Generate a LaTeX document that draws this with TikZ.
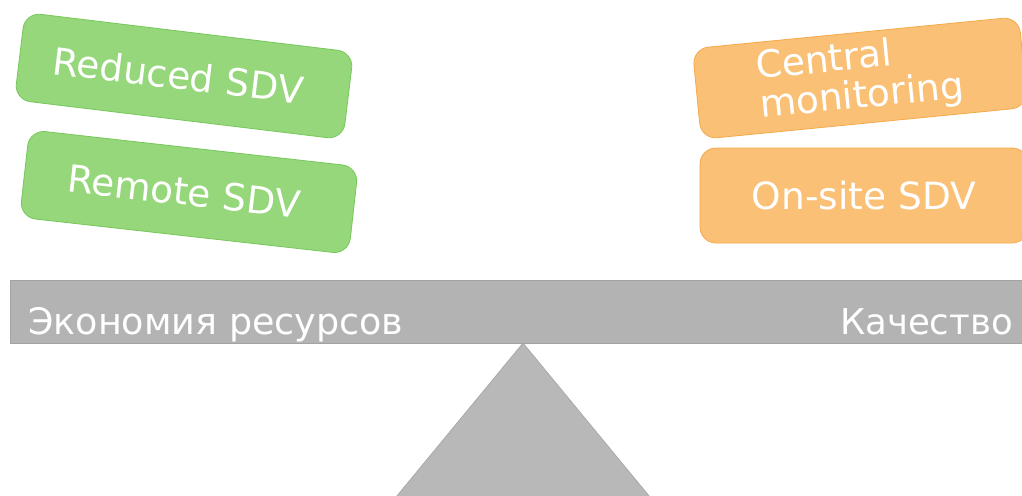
\documentclass[tikz,border=0pt]{standalone}
\usepackage{fontspec}
\setmainfont{DejaVu Sans}
\definecolor{gfill}{HTML}{95D77A}
\definecolor{gline}{HTML}{76C85A}
\definecolor{ofill}{HTML}{FAC076}
\definecolor{oline}{HTML}{F5AA4A}
\definecolor{barfill}{HTML}{B3B3B3}
\definecolor{barline}{HTML}{A3A3A3}
\definecolor{trifill}{HTML}{B8B8B8}
\tikzset{
  big/.style={font=\fontsize{37.5}{39}\selectfont, text=white},
  gbox/.style={big, draw=gline, fill=gfill, line width=0.8pt, rounded corners=16pt,
    minimum width=331pt, minimum height=88pt, inner sep=0pt},
  obox/.style={big, draw=oline, fill=ofill, line width=0.8pt, rounded corners=16pt,
    minimum height=88pt, inner sep=0pt},
  barlabel/.style={font=\fontsize{36.5}{36}\selectfont, text=white, inner sep=0pt}
}
\begin{document}
\begin{tikzpicture}[x=1pt,y=-1pt]
\clip (0,0) rectangle (1022,495);
\fill[white] (0,0) rectangle (1022,495);
% beam
\node[draw=barline, fill=barfill, line width=0.8pt, minimum width=1020pt, minimum height=63pt,
  inner sep=0pt, anchor=north west] (bar) at (10,280) {};
\node[barlabel, anchor=base west] (econ) at (28,334) {Экономия ресурсов};
\node[barlabel, font=\fontsize{35.5}{36}\selectfont, anchor=base east] (qual) at (1013,334) {Качество};
% fulcrum
\draw[draw=barline, fill=trifill, line width=0.6pt] (523,343) -- (396,497) -- (650,497) -- cycle;
% green boxes
\node[gbox, rotate=-6.9] (red) at (184,76) {Reduced SDV\hspace*{12pt}};
\node[gbox, rotate=-6.4] (rem) at (189,192) {Remote SDV\hspace*{10pt}};
% orange boxes
\node[obox, minimum width=328pt, minimum height=91pt, rotate=5.6, align=left] (cen) at (860,78) {Central\\monitoring};
\node[obox, minimum width=328pt, minimum height=95pt] (ons) at (864,195.5) {On-site SDV};
\end{tikzpicture}
\end{document}
